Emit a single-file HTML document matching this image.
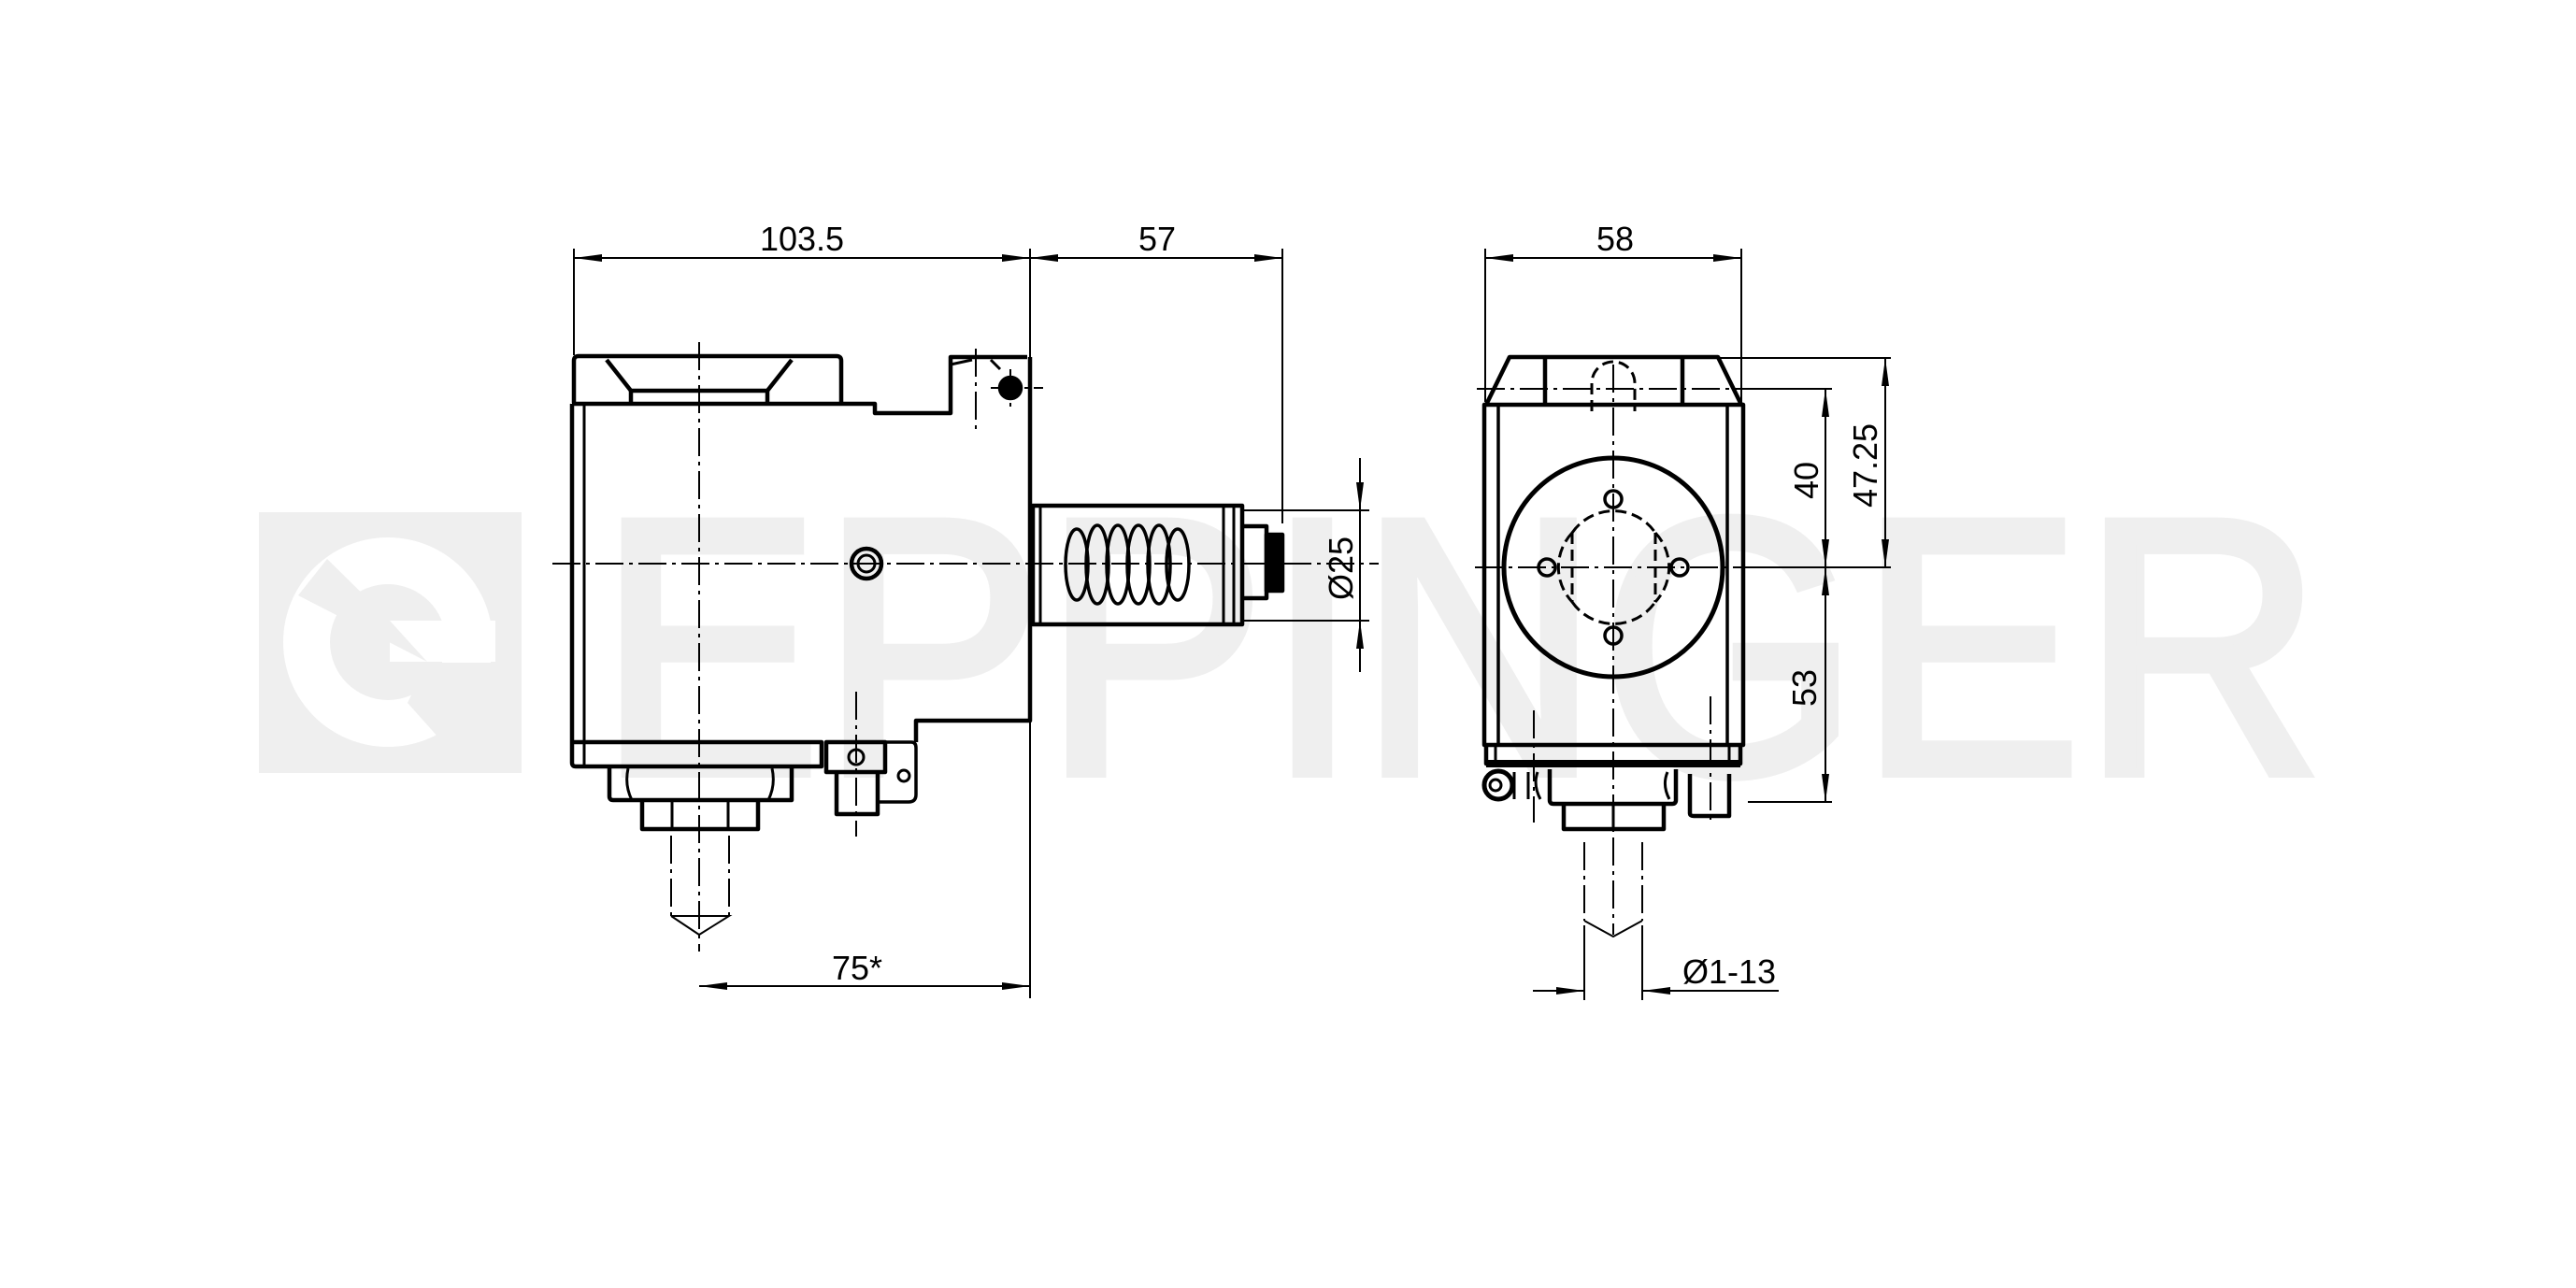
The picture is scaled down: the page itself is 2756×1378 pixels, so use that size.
<!DOCTYPE html>
<html><head><meta charset="utf-8"><style>
html,body{margin:0;padding:0;background:#fff;width:2756px;height:1378px;overflow:hidden}
svg{display:block}
text{font-family:"Liberation Sans",sans-serif;fill:#000}
</style></head><body>
<svg width="2756" height="1378" viewBox="0 0 2756 1378" xmlns="http://www.w3.org/2000/svg">
<defs>
<marker id="a" viewBox="0 0 30 10" refX="30" refY="5" markerWidth="30" markerHeight="10" markerUnits="userSpaceOnUse" orient="auto-start-reverse"><path d="M0,1 L30,5 L0,9 Z" fill="#000"/></marker>
</defs>
<!-- watermark -->
<g fill="#efefef">
<rect x="277" y="548" width="281" height="279"/>
<text x="640" y="827" font-size="390" textLength="1845" lengthAdjust="spacingAndGlyphs" style="fill:#efefef;stroke:#efefef;stroke-width:10;font-family:'Liberation Sans',sans-serif">EPPINGER</text>
</g>
<g>
<circle cx="415" cy="687" r="112" fill="#fff"/>
<circle cx="415" cy="687" r="62" fill="#efefef"/>
<rect x="417" y="664" width="113" height="44" fill="#fff"/>
<polygon points="350,598 417,664 457,708 319,637" fill="#efefef"/>
<polygon points="457,709 531,709 531,800 470,790 436,752" fill="#efefef"/>
</g>

<g fill="none" stroke="#000" stroke-width="4.5" stroke-linejoin="round">
<!-- LEFT VIEW -->
<path d="M614,431 V386 Q614,381 619,381 H895 Q900,381 900,386 V431"/>
<path d="M649,385 L675,418 H821 L847,385"/>
<line x1="675" y1="418" x2="675" y2="431"/><line x1="821" y1="418" x2="821" y2="431"/>
<path d="M612,432 H936 V442 H1017 V382 H1099 M1102,382 V771 H980 V794"/>
<path d="M612,432 V816 Q612,820 616,820 H879 V794 H612"/>
<line x1="625" y1="432" x2="625" y2="820" stroke-width="3"/>
<path d="M652,820 V852 Q652,856 656,856 H847 V820" />
<path d="M687,856 V887 H811 V856"/>
<line x1="719" y1="856" x2="719" y2="887" stroke-width="3"/><line x1="779" y1="856" x2="779" y2="887" stroke-width="3"/>
<path d="M672,822 Q668,840 676,856 M822,856 Q830,840 826,822" stroke-width="3"/>
<circle cx="1081" cy="415" r="11" fill="#000"/>
<path d="M1017,390 L1040,385 M1060,385 L1070,395" stroke-width="3"/>
<circle cx="927" cy="603" r="16"/><circle cx="927" cy="603" r="9" stroke-width="3"/>
<!-- small connector -->
<path d="M884,794 V826 H947 V794 Z"/>
<path d="M895,826 V871 H939 V826"/>
<circle cx="916" cy="810" r="8" stroke-width="3"/>
<path d="M947,794 H975 Q980,794 980,800 V850 Q980,858 972,858 H939" stroke-width="3.5"/>
<circle cx="967" cy="830" r="6" stroke-width="3"/>
<!-- shaft -->
<path d="M1105,541 H1329 V668 H1105 Z"/>
<line x1="1113" y1="541" x2="1113" y2="668" stroke-width="3"/>
<line x1="1309" y1="541" x2="1309" y2="668" stroke-width="3"/>
<line x1="1320" y1="541" x2="1320" y2="668" stroke-width="3"/>
<path d="M1329,563 H1355 V640 H1329"/>
<rect x="1355" y="572" width="17" height="60" fill="#000"/>
<g stroke-width="3.5">
<ellipse cx="1152" cy="604" rx="12" ry="38"/>
<ellipse cx="1174" cy="604" rx="12" ry="42"/>
<ellipse cx="1196" cy="604" rx="12" ry="42"/>
<ellipse cx="1218" cy="604" rx="12" ry="42"/>
<ellipse cx="1240" cy="604" rx="12" ry="42"/>
<ellipse cx="1260" cy="604" rx="12" ry="38"/>
</g>

<!-- RIGHT VIEW -->
<path d="M1590,433 L1615,382 H1838 L1863,433"/>
<line x1="1653" y1="382" x2="1653" y2="433"/><line x1="1800" y1="382" x2="1800" y2="433"/>
<path d="M1588,433 H1865 V797 H1588 Z"/>
<line x1="1603" y1="433" x2="1603" y2="797" stroke-width="3.5"/>
<line x1="1848" y1="433" x2="1848" y2="797" stroke-width="3.5"/>
<path d="M1590,797 V817 H1862 V797"/>
<line x1="1600" y1="797" x2="1600" y2="817" stroke-width="3"/><line x1="1850" y1="797" x2="1850" y2="817" stroke-width="3"/>
<line x1="1590" y1="817" x2="1862" y2="817" stroke-width="8"/>
<path d="M1658,823 V856 Q1658,860 1662,860 H1789 Q1793,860 1793,856 V823"/>
<path d="M1673,860 V887 H1780 V860"/>
<line x1="1726" y1="860" x2="1726" y2="887" stroke-width="3"/>
<circle cx="1603" cy="840" r="15" stroke-width="5"/>
<circle cx="1600" cy="840" r="6" stroke-width="3"/>
<path d="M1620,826 V855 M1635,826 V855 M1645,826 Q1640,840 1648,855 M1784,826 Q1778,840 1786,855" stroke-width="3"/>
<path d="M1808,828 V870 Q1808,873 1812,873 H1850 V828"/>
<circle cx="1726" cy="607" r="117" stroke-width="5"/>
<circle cx="1726" cy="534" r="9" stroke-width="3.5"/>
<circle cx="1726" cy="680" r="9" stroke-width="3.5"/>
<circle cx="1655" cy="607" r="9" stroke-width="3.5"/>
<circle cx="1797" cy="607" r="9" stroke-width="3.5"/>
</g>
<!-- hidden lines -->
<g fill="none" stroke="#000" stroke-width="3" stroke-dasharray="12,6">
<path d="M1682,570 A54,54 0 0,0 1682,644 M1771,570 A54,54 0 0,1 1771,644 M1682,570 A54,54 0 0,1 1771,570 M1682,644 A54,54 0 0,0 1771,644"/>
<line x1="1682" y1="570" x2="1682" y2="644"/><line x1="1771" y1="570" x2="1771" y2="644"/>
<path d="M1703,440 V410 A23,23 0 0,1 1749,410 V440"/>
</g>
<!-- center lines -->
<g fill="none" stroke="#000" stroke-width="2" stroke-dasharray="30,6,4,6">
<line x1="591" y1="603" x2="1475" y2="603"/>
<line x1="748" y1="366" x2="748" y2="1018"/>
<line x1="916" y1="740" x2="916" y2="895"/>
<line x1="1044" y1="373" x2="1044" y2="460"/>
<line x1="1060" y1="415" x2="1116" y2="415"/>
<line x1="1081" y1="395" x2="1081" y2="435"/>
<line x1="1578" y1="607" x2="1870" y2="607"/>
<line x1="1726" y1="390" x2="1726" y2="1000"/>
<line x1="1580" y1="416" x2="1870" y2="416"/>
<line x1="1641" y1="760" x2="1641" y2="880"/>
<line x1="1830" y1="745" x2="1830" y2="880"/>
<line x1="718" y1="894" x2="718" y2="980"/><line x1="780" y1="894" x2="780" y2="980"/>
<line x1="1695" y1="901" x2="1695" y2="985"/><line x1="1757" y1="901" x2="1757" y2="985"/>
</g>
<g fill="none" stroke="#000" stroke-width="2">
<path d="M718,980 L748,1000 L780,980 H718"/>
<path d="M1695,985 L1726,1002 L1757,985"/>
</g>
<!-- dimensions -->
<g fill="none" stroke="#000" stroke-width="2">
<line x1="614" y1="266" x2="614" y2="380"/>
<line x1="1102" y1="266" x2="1102" y2="1068"/>
<line x1="1372" y1="266" x2="1372" y2="560"/>
<line x1="614" y1="276" x2="1102" y2="276" marker-start="url(#a)" marker-end="url(#a)"/>
<line x1="1102" y1="276" x2="1372" y2="276" marker-start="url(#a)" marker-end="url(#a)"/>
<line x1="748" y1="1055" x2="1102" y2="1055" marker-start="url(#a)" marker-end="url(#a)"/>
<line x1="1329" y1="546" x2="1465" y2="546"/><line x1="1329" y1="664" x2="1465" y2="664"/>
<line x1="1455" y1="490" x2="1455" y2="546" marker-end="url(#a)"/>
<line x1="1455" y1="719" x2="1455" y2="664" marker-end="url(#a)"/>
<line x1="1455" y1="546" x2="1455" y2="664"/>
<line x1="1589" y1="266" x2="1589" y2="430"/><line x1="1863" y1="266" x2="1863" y2="430"/>
<line x1="1589" y1="276" x2="1863" y2="276" marker-start="url(#a)" marker-end="url(#a)"/>
<line x1="1840" y1="383" x2="2023" y2="383"/>
<line x1="1870" y1="607" x2="2023" y2="607"/>
<line x1="1870" y1="858" x2="1960" y2="858"/>
<line x1="1870" y1="416" x2="1960" y2="416"/>
<line x1="1953" y1="416" x2="1953" y2="607" marker-start="url(#a)" marker-end="url(#a)"/>
<line x1="1953" y1="607" x2="1953" y2="858" marker-start="url(#a)" marker-end="url(#a)"/>
<line x1="2017" y1="383" x2="2017" y2="607" marker-start="url(#a)" marker-end="url(#a)"/>
<line x1="1695" y1="990" x2="1695" y2="1070"/><line x1="1757" y1="990" x2="1757" y2="1070"/>
<line x1="1640" y1="1060" x2="1695" y2="1060" marker-end="url(#a)"/>
<line x1="1903" y1="1060" x2="1757" y2="1060" marker-end="url(#a)"/>
</g>
<g font-size="36">
<text x="858" y="268" text-anchor="middle">103.5</text>
<text x="1238" y="268" text-anchor="middle">57</text>
<text x="1728" y="268" text-anchor="middle">58</text>
<text x="917" y="1048" text-anchor="middle">75*</text>
<text x="1850" y="1052" text-anchor="middle">Ø1-13</text>
<text transform="translate(1447,608) rotate(-90)" text-anchor="middle">Ø25</text>
<text transform="translate(1945,514) rotate(-90)" text-anchor="middle">40</text>
<text transform="translate(1943,736) rotate(-90)" text-anchor="middle">53</text>
<text transform="translate(2008,498) rotate(-90)" text-anchor="middle">47.25</text>
</g>
</svg>
</body></html>
